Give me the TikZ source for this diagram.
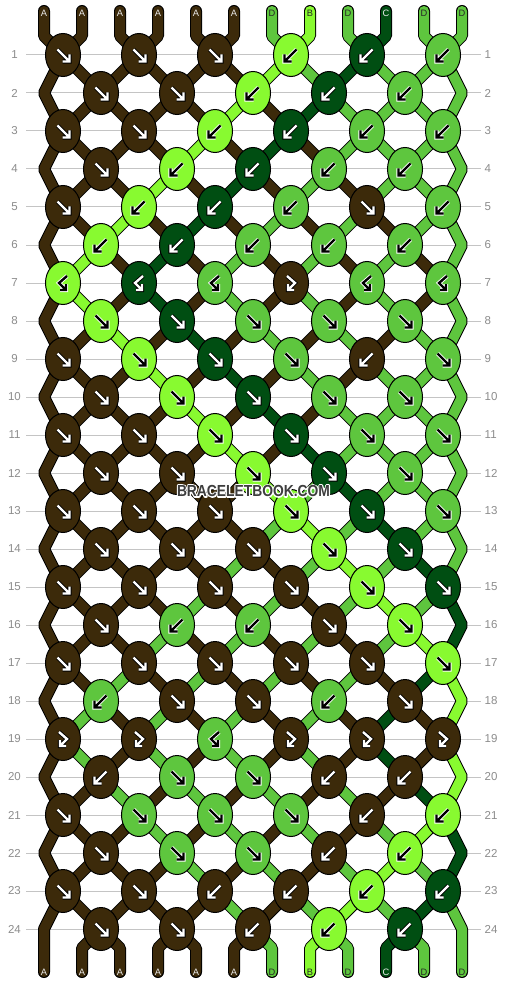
\documentclass[tikz,border=0pt]{standalone}
\usepackage{fontspec}
\setmainfont{Liberation Sans}
\usetikzlibrary{shapes.geometric}
\definecolor{cA}{RGB}{60,42,10}
\definecolor{cB}{RGB}{136,250,48}
\definecolor{cC}{RGB}{0,78,18}
\definecolor{cD}{RGB}{94,198,62}
\colorlet{fgA}{white}\colorlet{fgB}{black}\colorlet{fgC}{white}\colorlet{fgD}{black}
\colorlet{bgA}{black}\colorlet{bgB}{white}\colorlet{bgC}{black}\colorlet{bgD}{white}
\colorlet{lbA}{white!92!black}\colorlet{lbB}{black!85}\colorlet{lbC}{white!92!black}\colorlet{lbD}{black!85}
\definecolor{gridgray}{RGB}{196,196,196}
\definecolor{numgray}{RGB}{140,140,140}
\definecolor{wmgray}{RGB}{62,62,62}

\tikzset{
  thread outer/.style={line width=12pt, draw=black, line cap=round, line join=bevel},
  thread inner/.style={line width=10pt, line cap=round, line join=bevel},
  knotbox/.style={ellipse, draw=black, line width=1pt, minimum width=35pt, minimum height=43pt, inner sep=0pt},
  arrowback/.style={line width=4.2pt, line cap=butt, line join=miter},
  arrowfront/.style={line width=2.4pt, line cap=butt, line join=miter},
  gridline/.style={draw=gridgray, line width=1pt},
  rownum/.style={text=numgray, font=\fontsize{11.5}{12}\selectfont, inner sep=0pt},
  strlabel/.style={font=\fontsize{9.3}{9.3}\selectfont, inner sep=0pt},
  wm/.style={font=\fontsize{16}{16}\selectfont\bfseries, inner sep=0pt}
}

\def\setthr#1#2{\expandafter\xdef\csname thr#1\endcsname{#2}}
\def\posname#1#2#3{%
  \ifodd#1\relax
    \pgfmathtruncatemacro\kk{(#2+1)/2}\edef#3{P-#1-\kk}%
  \else
    \ifnum#2=1\relax \edef#3{E-#1-L}%
    \else\ifnum#2=12\relax \edef#3{E-#1-R}%
    \else \pgfmathtruncatemacro\kk{#2/2}\edef#3{P-#1-\kk}%
    \fi\fi
  \fi}
\def\drawthread#1#2{\draw[thread outer] #2;\draw[thread inner,draw=c#1] #2;}

\def\doF{\edef\Kc{\Lc}\setthr{\lp}{\Rc}\setthr{\rp}{\Lc}}
\def\doB{\edef\Kc{\Rc}\setthr{\lp}{\Rc}\setthr{\rp}{\Lc}}
\def\doFB{\edef\Kc{\Lc}}
\def\doBF{\edef\Kc{\Rc}}

\def\pathF{(-5.5,-5.5) -- (6.5,6.5) (-0.5,6.5) -- (6.5,6.5) -- (6.5,-0.5)}
\def\pathB{(5.5,-5.5) -- (-6.5,6.5) (0.5,6.5) -- (-6.5,6.5) -- (-6.5,-0.5)}
\def\pathFB{(-4,-7) -- (4,0) -- (-3,7) (-3,1) -- (-3,7) -- (3,7)}
\def\pathBF{(4,-7) -- (-4,0) -- (3,7) (3,1) -- (3,7) -- (-3,7)}

\def\initcols{A,A,A,A,A,A,D,B,D,C,D,D}
\def\rowtypes{{F,F,F,B,B,B},{F,F,B,B,B},{F,F,B,B,B,B},{F,B,B,B,B},{F,B,B,B,F,B},{B,B,B,B,B},{BF,BF,BF,FB,BF,BF},{F,F,F,F,F},{F,F,F,F,B,F},{F,F,F,F,F},{F,F,F,F,F,F},{F,F,F,F,F},{F,F,F,F,F,F},{F,F,F,F,F},{F,F,F,F,F,F},{F,B,B,F,F},{F,F,F,F,F,F},{B,F,F,B,F},{FB,FB,BF,FB,FB,FB},{B,F,F,B,B},{F,F,F,F,B,B},{F,F,F,B,B},{F,F,B,B,B,B},{F,F,B,B,B}}

\newif\ifdrawknots

% process knots of row \r with types \types
\def\knotrow{%
  \foreach \t [count=\k] in \types {
    \ifodd\r\relax
      \pgfmathtruncatemacro\lp{2*\k-1}\pgfmathtruncatemacro\rp{2*\k}%
    \else
      \pgfmathtruncatemacro\lp{2*\k}\pgfmathtruncatemacro\rp{2*\k+1}%
    \fi
    \edef\Lc{\csname thr\lp\endcsname}%
    \edef\Rc{\csname thr\rp\endcsname}%
    \csname do\t\endcsname
    \ifdrawknots
      \node[knotbox, fill=c\Kc] (K-\r-\k) at (P-\r-\k) {};
      \edef\tmpcmd{\noexpand\draw[arrowback,draw=bg\Kc,shift={(P-\r-\k)}] \csname path\t\endcsname;
        \noexpand\draw[arrowfront,draw=fg\Kc,shift={(P-\r-\k)}] \csname path\t\endcsname;}%
      \tmpcmd
    \fi
  }}

\begin{document}
\begin{tikzpicture}[x=1pt,y=-1pt]
\useasboundingbox (0,0) rectangle (506,984);
\fill[white] (0,0) rectangle (506,984);

% grid, row numbers, coordinates
\foreach \r in {1,...,24} {
  \pgfmathsetmacro\yy{17+38*\r}
  \draw[gridline] (26,\yy) -- (481,\yy);
  \node[rownum, anchor=center] (NL-\r) at (14.5,\yy) {\r};
  \node[rownum, anchor=west] (NR-\r) at (484.5,\yy) {\r};
  \ifodd\r\relax
    \foreach \k in {1,...,6} {\coordinate (P-\r-\k) at ({-13+76*\k},\yy);}
  \else
    \foreach \k in {1,...,5} {\coordinate (P-\r-\k) at ({25+76*\k},\yy);}
    \coordinate (E-\r-L) at (44,\yy);
    \coordinate (E-\r-R) at (462,\yy);
  \fi
}
\foreach \p in {1,...,12} {
  \coordinate (T-\p) at ({6+38*\p},11);
  \coordinate (TB-\p) at ({6+38*\p},36);
  \coordinate (BB-\p) at ({6+38*\p},948);
  \coordinate (B-\p) at ({6+38*\p},972);
}

% ---------- pass 1: threads ----------
\drawknotsfalse
\foreach \c [count=\p] in \initcols {\setthr{\p}{\c}}
\foreach \types [count=\r] in \rowtypes {
  \pgfmathtruncatemacro\re{\r-1}
  \pgfmathtruncatemacro\rr{\r-2}
  \foreach \p in {1,...,12} {
    \edef\col{\csname thr\p\endcsname}
    \posname{\r}{\p}\pnB
    \ifnum\r=1\relax
      \drawthread{\col}{(T-\p) -- (TB-\p) -- (\pnB)}
    \else
      \ifodd\r\relax
        \ifnum\p=1\relax
          \drawthread{\col}{(P-\rr-1) -- (E-\re-L) -- (\pnB)}
        \else\ifnum\p=12\relax
          \drawthread{\col}{(P-\rr-6) -- (E-\re-R) -- (\pnB)}
        \else
          \posname{\re}{\p}\pnA
          \drawthread{\col}{(\pnA) -- (\pnB)}
        \fi\fi
      \else
        \ifnum\p=1\relax\else\ifnum\p=12\relax\else
          \posname{\re}{\p}\pnA
          \drawthread{\col}{(\pnA) -- (\pnB)}
        \fi\fi
      \fi
    \fi
  }
  \knotrow
}
% bottom threads
\foreach \p in {2,...,11} {
  \edef\col{\csname thr\p\endcsname}
  \posname{24}{\p}\pnA
  \drawthread{\col}{(\pnA) -- (BB-\p) -- (B-\p)}
}
\edef\col{\csname thr1\endcsname}
\drawthread{\col}{(P-23-1) -- (E-24-L) -- (B-1)}
\edef\col{\csname thr12\endcsname}
\drawthread{\col}{(P-23-6) -- (E-24-R) -- (B-12)}
\foreach \p in {1,...,12} {
  \edef\col{\csname thr\p\endcsname}
  \node[strlabel, text=lb\col] (LB-\p) at ({6+38*\p},972) {\col};
}

% ---------- pass 2: knots ----------
\foreach \c [count=\p] in \initcols {
  \setthr{\p}{\c}
  \node[strlabel, text=lb\c] (LT-\p) at ({6+38*\p},13) {\c};
}
\drawknotstrue
\foreach \types [count=\r] in \rowtypes {\knotrow}

% watermark: white outline (stroked glyphs) under the dark text
\node[wm, text=white] (WH) at (253.5,491) {\scalebox{0.865}[1]{\special{pdf:literal direct 1 Tr 2.6 w 1 j}BRACELETBOOK.COM\special{pdf:literal direct 0 Tr}}};
\node[wm, text=wmgray] (WM) at (253.5,491) {\scalebox{0.865}[1]{BRACELETBOOK.COM}};
\end{tikzpicture}
\end{document}
